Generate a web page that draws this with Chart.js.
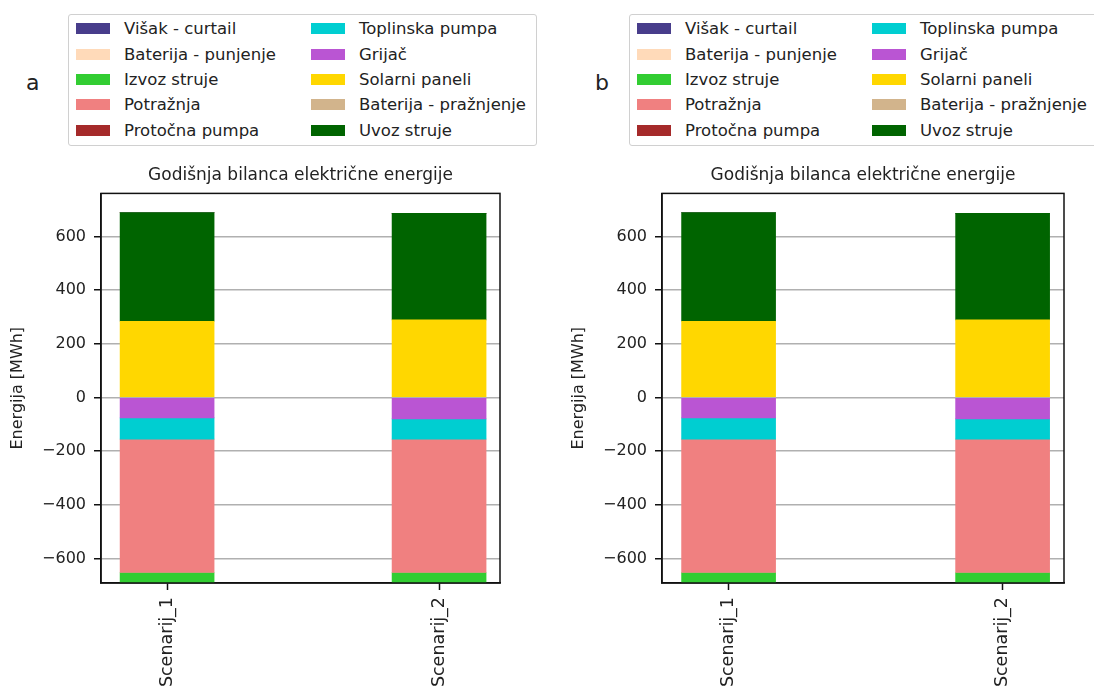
<!DOCTYPE html>
<meta charset="utf-8">
<style>
html, body {
  margin: 0;
  width: 1094px;
  height: 690px;
  overflow: hidden;
  background: #fff;
  font-family: "DejaVu Sans", sans-serif;
  color: #222;
}

.letter {
  position: absolute;
  top: 70px;
  font-size: 22px;
}

.legend {
  position: absolute;
  top: 14px;
  width: 469px;
  height: 132px;
  border: 1px solid #d0d0d0;
  border-radius: 3px;
  box-sizing: border-box;
  padding: 1px 0 0 7px;
  display: grid;
  grid-auto-flow: column;
  grid-template-rows: repeat(5, 25.4px);
  grid-template-columns: 235px 235px;
  font-size: 16.5px;
}

.legend .item {
  display: flex;
  align-items: center;
  white-space: nowrap;
}

.legend .swatch {
  width: 34px;
  height: 11px;
  margin-right: 14px;
}

canvas {
  position: absolute;
  top: 150px;
}
</style>
<body>

<div class="letter" style="left: 26px;">a</div>
<div class="legend js-legend" style="left: 68px;"></div>
<canvas id="chart-a" width="547" height="540" style="left: 0;"></canvas>

<div class="letter" style="left: 595px;">b</div>
<div class="legend js-legend" style="left: 629px;"></div>
<canvas id="chart-b" width="533" height="540" style="left: 561px;"></canvas>

<script src="https://cdn.jsdelivr.net/npm/chart.js@4.4.0/dist/chart.umd.min.js"></script>
<script>
"use strict";

var categories = ["Scenarij_1", "Scenarij_2"];

var visakCurtail       = [0, 0];
var baterijaPunjenje   = [0, 0];
var izvozStruje        = [-39, -39];
var potraznja          = [-497, -497];
var protocnaPumpa      = [0, 0];
var toplinskaPumpa     = [-79, -75];
var grijac             = [-76, -80];
var solarniPaneli      = [284, 289];
var baterijaPraznjenje = [0, 0];
var uvozStruje         = [405, 397];

var yTicks = [-600, -400, -200, 0, 200, 400, 600];

var title = "Godišnja bilanca električne energije";
var yTitle = "Energija [MWh]";

// legend order (column-major, as in the figure)
var series = [
  { name: "Višak - curtail",       values: visakCurtail,       color: "#483d8b" },
  { name: "Baterija - punjenje",   values: baterijaPunjenje,   color: "#ffdab9" },
  { name: "Izvoz struje",          values: izvozStruje,        color: "#32cd32" },
  { name: "Potražnja",             values: potraznja,          color: "#f08080" },
  { name: "Protočna pumpa",        values: protocnaPumpa,      color: "#a52a2a" },
  { name: "Toplinska pumpa",       values: toplinskaPumpa,     color: "#00ced1" },
  { name: "Grijač",                values: grijac,             color: "#ba55d3" },
  { name: "Solarni paneli",        values: solarniPaneli,      color: "#ffd700" },
  { name: "Baterija - pražnjenje", values: baterijaPraznjenje, color: "#d2b48c" },
  { name: "Uvoz struje",           values: uvozStruje,         color: "#006400" }
];

// stacking order: first entry sits next to zero
var stackOrder = [
  "Solarni paneli", "Uvoz struje",
  "Grijač", "Toplinska pumpa", "Potražnja", "Izvoz struje",
  "Višak - curtail", "Baterija - punjenje", "Protočna pumpa", "Baterija - pražnjenje"
];

Chart.defaults.font.family = "'DejaVu Sans', sans-serif";
Chart.defaults.font.size = 16;
Chart.defaults.color = "#222";

document.querySelectorAll(".js-legend").forEach(function (el) {
  series.forEach(function (s) {
    var item = document.createElement("div");
    item.className = "item";
    item.innerHTML = '<span class="swatch" style="background:' + s.color + '"></span>' + s.name;
    el.appendChild(item);
  });
});

var framePlugin = {
  id: "frame",
  afterDraw: function (chart) {
    var a = chart.chartArea, ctx = chart.ctx;
    ctx.save();
    ctx.strokeStyle = "#111";
    ctx.lineWidth = 1.5;
    ctx.strokeRect(a.left, a.top, a.right - a.left, a.bottom - a.top);
    ctx.restore();
  }
};

function buildDatasets() {
  return stackOrder.map(function (name) {
    var s = series.find(function (d) { return d.name === name; });
    return {
      label: s.name,
      data: s.values.map(function (v, i) { return { x: i, y: v }; }),
      backgroundColor: s.color,
      borderWidth: 0,
      barThickness: 94
    };
  });
}

function makeChart(id, rightPad) {
  return new Chart(document.getElementById(id), {
    type: "bar",
    data: { datasets: buildDatasets() },
    plugins: [framePlugin],
    options: {
      responsive: false,
      animation: false,
      devicePixelRatio: 1,
      layout: { padding: { left: 0, right: rightPad, top: 0, bottom: 0 } },
      plugins: {
        legend: { display: false },
        tooltip: { enabled: false },
        title: {
          display: true,
          fullSize: false,
          text: title,
          font: { size: 17, weight: "normal" },
          color: "#222",
          padding: { top: 15, bottom: 8 }
        }
      },
      scales: {
        x: {
          type: "linear",
          stacked: true,
          offset: false,
          min: -0.243,
          max: 1.224,
          afterFit: function (scale) { scale.height = 107; },
          afterBuildTicks: function (scale) {
            scale.ticks = categories.map(function (c, i) { return { value: i }; });
          },
          grid: { offset: false, drawOnChartArea: false, tickLength: 7, tickColor: "#111", tickWidth: 1.5 },
          border: { color: "#111", width: 1.5 },
          ticks: {
            minRotation: 90,
            maxRotation: 90,
            padding: 7,
            font: { size: 17.5 },
            callback: function (v) { return categories[v]; }
          }
        },
        y: {
          stacked: true,
          min: -691,
          max: 760,
          z: 1,
          afterFit: function (scale) { scale.width = 101; },
          afterBuildTicks: function (scale) {
            scale.ticks = yTicks.map(function (v) { return { value: v }; });
          },
          grid: { color: "#b0b0b0", lineWidth: 1.5, tickLength: 7, tickColor: "#111", tickWidth: 1.5 },
          border: { color: "#111", width: 1.5 },
          ticks: {
            padding: 8,
            callback: function (v) { return String(v).replace("-", "\u2212"); }
          },
          title: {
            display: true,
            text: yTitle,
            font: { size: 16 },
            color: "#222",
            padding: { top: 8, bottom: 0 }
          }
        }
      }
    }
  });
}

makeChart("chart-a", 47);
makeChart("chart-b", 30);
</script>
</body>
